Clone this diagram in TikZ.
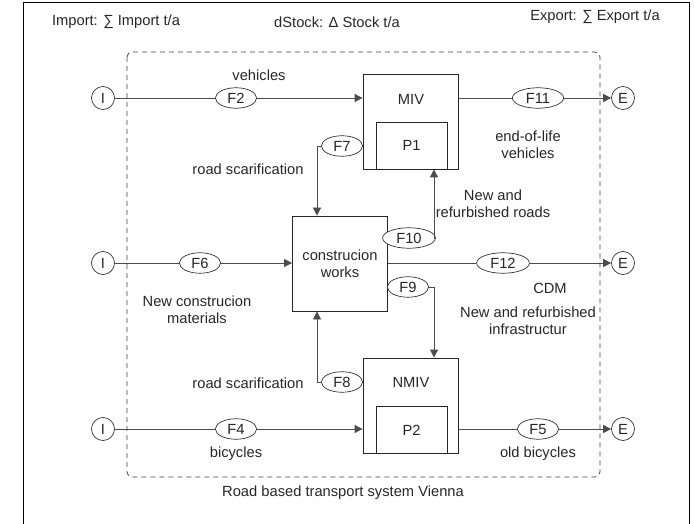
\documentclass[tikz,border=0pt]{standalone}
\usepackage{fontspec}
\setmainfont{Liberation Sans}
\usetikzlibrary{shapes.geometric,arrows.meta,positioning}

\begin{document}
\begin{tikzpicture}
[x=1pt, y=-1pt, font=\fontsize{14.7}{17}\selectfont, text=black!85]

\tikzstyle{process}=[rectangle, draw=black!85, line width=0.8pt, minimum width=95pt, minimum height=95pt, inner sep=0pt, align=center]
\tikzstyle{subproc}=[rectangle, draw=black!85, line width=0.8pt, minimum width=71pt, minimum height=47pt, inner sep=0pt]
\tikzstyle{flow}=[ellipse, draw=black!80, line width=0.7pt, fill=white, inner xsep=6pt, inner ysep=2pt, text height=10.5pt, text depth=0pt]
\tikzstyle{port}=[circle, draw=black!80, line width=0.7pt, fill=white, minimum size=23pt, inner sep=0pt]
\tikzstyle{pipe}=[draw=black!70, line width=0.8pt]
\tikzstyle{feed}=[pipe, -{Triangle[length=8pt, width=8pt]}]
\tikzstyle{caption}=[align=center, inner sep=0pt]

\useasboundingbox (0,0) rectangle (694,524);
\draw [line width=1pt] (23,524) -- (23,3) -- (689,3) -- (689,524);
\draw [black!75, line width=0.8pt, dash pattern=on 5pt off 4pt, rounded corners=5pt] (127,52) rectangle (600,477);

\node[caption]	(imp)	at (116,22)	{Import: ∑ Import t/a};
\node[caption]	(dst)	at (337,22)	{dStock: Δ Stock t/a};
\node[caption]	(exp)	at (595,17)	{Export: ∑ Export t/a};
\node[caption]	(sys)	at (343,493)	{Road based transport system Vienna};

\node[process]	(MIV)	at (410.5,121.5)	{};
\node[subproc]	(P1)	at (411.5,145.5)	{P1};
\node[caption]	(MIVt)	at (411,99)	{MIV};
\node[process]	(con)	at (340,263.5)	{construcion\\works};
\node[process]	(NMIV)	at (410.5,405.5)	{};
\node[subproc]	(P2)	at (411.5,430)	{P2};
\node[caption]	(NMIVt)	at (411,382)	{NMIV};

\node[port]	(I1)	at (103,98)	{I};
\node[port]	(I2)	at (103,263)	{I};
\node[port]	(I3)	at (103,429)	{I};
\node[port]	(E1)	at (623,98)	{E};
\node[port]	(E2)	at (623,263)	{E};
\node[port]	(E3)	at (623,429)	{E};

\node[flow]	(F2)	at (236,98)	{F2};
\node[flow]	(F11)	at (538,98)	{F11};
\node[flow]	(F7)	at (342,146)	{F7};
\node[flow]	(F10)	at (409,238)	{F10};
\node[flow]	(F6)	at (200,263)	{F6};
\node[flow]	(F12)	at (503,263)	{F12};
\node[flow]	(F9)	at (408,287)	{F9};
\node[flow]	(F8)	at (342,382)	{F8};
\node[flow]	(F4)	at (236,429)	{F4};
\node[flow]	(F5)	at (538,429)	{F5};

\node[caption]	(l2)	at (259,75)	{vehicles};
\node[caption]	(l7)	at (248,169)	{road scarification};
\node[caption]	(l11)	at (528,145)	{end-of-life\\vehicles};
\node[caption]	(l10)	at (493,204)	{New and\\refurbished roads};
\node[caption]	(l6)	at (197,310)	{New construcion\\materials};
\node[caption]	(l12)	at (550,288)	{CDM};
\node[caption]	(l9)	at (528,321)	{New and refurbished\\infrastructur};
\node[caption]	(l8)	at (248,383)	{road scarification};
\node[caption]	(l4)	at (236,454)	{bicycles};
\node[caption]	(l5)	at (538,454)	{old bicycles};

\draw [pipe] (I1) -- (F2);
\draw [feed] (F2) -- (F2 -| MIV.west);
\draw [pipe] (F11 -| MIV.east) -- (F11);
\draw [feed] (F11) -- (E1);
\draw [pipe] (I2) -- (F6);
\draw [feed] (F6) -- (F6 -| con.west);
\draw [pipe] (F12 -| con.east) -- (F12);
\draw [feed] (F12) -- (E2);
\draw [pipe] (I3) -- (F4);
\draw [feed] (F4) -- (F4 -| NMIV.west);
\draw [pipe] (F5 -| NMIV.east) -- (F5);
\draw [feed] (F5) -- (E3);
\draw [feed] (F7.west) -| ([xshift=-23pt]con.north);
\draw [feed] (F8.west) -| ([xshift=-23pt]con.south);
\draw [feed] (F10.east) -| ([xshift=23.5pt]MIV.south);
\draw [feed] (F9.east) -| ([xshift=23.5pt]NMIV.north);
\end{tikzpicture}
\end{document}
